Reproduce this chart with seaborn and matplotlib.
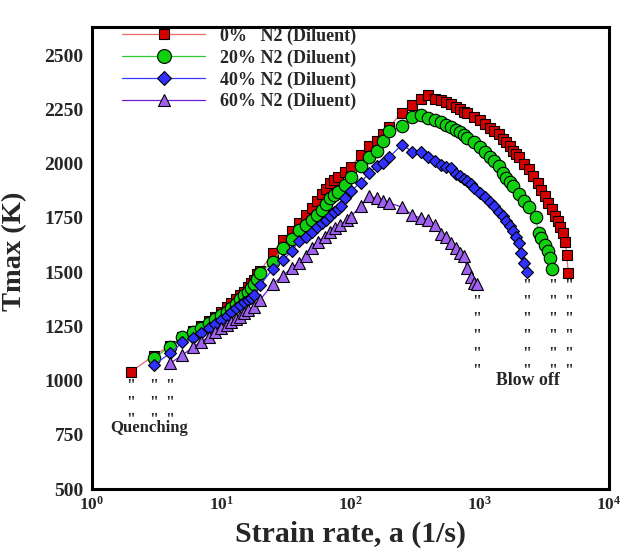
import numpy as np
import pandas as pd
import matplotlib
matplotlib.use("Agg")
import matplotlib.pyplot as plt
import seaborn as sns
from matplotlib.lines import Line2D
from matplotlib.ticker import FixedLocator, MultipleLocator, NullFormatter

# ---------------- data ----------------
x_0 = [2, 3, 4, 5, 6, 7, 8, 9, 10, 11, 12, 13, 14, 15, 16, 17, 18, 19, 20,
       25, 30, 35, 40, 45, 50, 55, 60, 65, 70, 75, 80, 90, 100, 120, 140, 160,
       180, 200, 250, 300, 350, 400, 450, 500, 550, 600, 650, 700, 750, 800,
       900, 1000, 1100, 1200, 1300, 1400, 1500, 1600, 1700, 1800, 1900, 2000,
       2200, 2400, 2600, 2800, 3000, 3200, 3400, 3600, 3800, 4000, 4200, 4400,
       4600, 4700, 4850]
t_0 = [1040, 1115, 1160, 1200, 1228, 1252, 1274, 1294, 1315, 1338, 1358, 1378,
       1395, 1410, 1432, 1450, 1465, 1490, 1505,
       1590, 1650, 1690, 1725, 1765, 1795, 1826, 1860, 1885, 1910, 1925, 1940,
       1960, 1985, 2040, 2080, 2105, 2135, 2170, 2235, 2270, 2300, 2315, 2300,
       2292, 2286, 2275, 2262, 2250, 2240, 2232, 2215, 2200, 2185, 2165, 2150,
       2135, 2115, 2098, 2080, 2060, 2045, 2030, 2000, 1975, 1945, 1910, 1880,
       1850, 1820, 1790, 1760, 1735, 1710, 1680, 1640, 1580, 1495]

x_20 = [3, 4, 5, 6, 7, 8, 9, 10, 11, 12, 13, 14, 15, 16, 17, 18, 19, 20,
        25, 30, 35, 40, 45, 50, 55, 60, 65, 70, 75, 80, 90, 100, 120, 140, 160,
        180, 200, 250, 300, 350, 400, 450, 500, 550, 600, 650, 700, 750, 800,
        900, 1000, 1100, 1200, 1300, 1400, 1500, 1600, 1700, 1800, 2000, 2200,
        2400, 2700, 2850, 3000, 3200, 3400, 3500, 3650]
t_20 = [1102, 1156, 1200, 1222, 1244, 1264, 1284, 1302, 1318, 1333, 1353, 1375,
        1395, 1410, 1425, 1446, 1470, 1495,
        1548, 1612, 1652, 1695, 1715, 1741, 1764, 1787, 1815, 1840, 1855, 1868,
        1900, 1940, 1987, 2030, 2057, 2105, 2149, 2172, 2215, 2226, 2211, 2203,
        2190, 2180, 2168, 2155, 2147, 2134, 2120, 2100, 2075, 2052, 2030, 2010,
        1990, 1955, 1935, 1915, 1895, 1860, 1830, 1800, 1756, 1680, 1657, 1626,
        1595, 1564, 1515]

x_40 = [3, 4, 5, 6, 7, 8, 9, 10, 11, 12, 13, 14, 15, 16, 17, 18, 20,
        25, 30, 35, 40, 45, 50, 55, 60, 65, 70, 75, 80, 85, 90, 100, 120, 140,
        160, 180, 200, 250, 300, 350, 400, 450, 500, 550, 600, 650, 700, 750,
        800, 850, 900, 1000, 1100, 1200, 1300, 1400, 1500, 1600, 1700, 1800,
        1900, 2000, 2100, 2200, 2300]
t_40 = [1071, 1125, 1176, 1195, 1218, 1241, 1262, 1279, 1299, 1318, 1333, 1349,
        1360, 1370, 1380, 1395, 1441,
        1513, 1556, 1595, 1644, 1664, 1687, 1710, 1725, 1738, 1760, 1775, 1790,
        1805, 1840, 1872, 1913, 1957, 1990, 2005, 2030, 2088, 2055, 2055, 2031,
        2010, 1995, 1984, 1978, 1950, 1941, 1928, 1918, 1908, 1890, 1865, 1845,
        1825, 1805, 1779, 1758, 1735, 1712, 1688, 1664, 1633, 1588, 1544, 1502]

x_60 = [4, 5, 6, 7, 8, 9, 10, 11, 12, 13, 14, 15, 16, 18, 20,
        25, 30, 35, 40, 45, 50, 56, 63, 70, 76, 83, 94, 100, 120, 140, 160, 180,
        200, 250, 300, 350, 400, 450, 500, 550, 600, 650, 700, 750, 800, 850,
        900, 950]
t_60 = [1079, 1117, 1153, 1179, 1202, 1225, 1241, 1256, 1271, 1282, 1294, 1310,
        1325, 1341, 1372,
        1446, 1482, 1521, 1541, 1572, 1610, 1641, 1664, 1687, 1703, 1718, 1741,
        1756, 1803, 1849, 1841, 1830, 1818, 1800, 1764, 1749, 1741, 1718, 1675,
        1664, 1633, 1610, 1590, 1572, 1518, 1479, 1449, 1444]

series_labels = ["0%   N2 (Diluent)", "20% N2 (Diluent)",
                 "40% N2 (Diluent)", "60% N2 (Diluent)"]

# rows of the '' marks below the end points (temperature values)
quench_rows = [1000, 922, 845]
blow_rows = [1464, 1387, 1311, 1230, 1150, 1071]

y_ticks = [500, 750, 1000, 1250, 1500, 1750, 2000, 2250, 2500]
x_ticks = [1, 10, 100, 1000, 10000]
x_tick_labels = [r"$\mathbf{10^{0}}$", r"$\mathbf{10^{1}}$", r"$\mathbf{10^{2}}$",
                 r"$\mathbf{10^{3}}$", r"$\mathbf{10^{4}}$"]

# ---------------- style ----------------
sns.set_style("white")
serif = "Liberation Serif"
plt.rcParams["font.family"] = [serif, "DejaVu Serif"]
plt.rcParams["font.weight"] = "bold"
plt.rcParams["mathtext.fontset"] = "custom"
plt.rcParams["mathtext.rm"] = serif + ":bold"
plt.rcParams["mathtext.bf"] = serif + ":bold"
plt.rcParams["mathtext.it"] = serif + ":bold"

fig = plt.figure(figsize=(6.22, 5.49), dpi=100)
ax = fig.add_axes([92 / 622, 60 / 549, (609 - 92) / 622, (549 - 60 - 27) / 549])

styles = [
    dict(marker="s", face="#d40000", line="#e86a6a", ms=7.0, lms=7.5),
    dict(marker="o", face="#10d010", line="#30c830", ms=9.0, lms=10.0),
    dict(marker="D", face="#3030ff", line="#3838ff", ms=6.6, lms=7.5),
    dict(marker="^", face="#a060f0", line="#6a20d8", ms=8.0, lms=8.5),
]
data = [(x_0, t_0), (x_20, t_20), (x_40, t_40), (x_60, t_60)]

handles = []
for (xs, ts), st, lab in zip(data, styles, series_labels):
    df = pd.DataFrame({"a": xs, "T": ts})
    sns.lineplot(data=df, x="a", y="T", ax=ax, color=st["line"], linewidth=0.9,
                 marker=st["marker"], markersize=st["ms"],
                 markerfacecolor=st["face"], markeredgecolor="black",
                 markeredgewidth=0.8, sort=False, legend=False)
    handles.append(Line2D([0], [0], color=st["line"], linewidth=0.9,
                          marker=st["marker"], markersize=st["lms"],
                          markerfacecolor=st["face"], markeredgecolor="black",
                          markeredgewidth=0.8, label=lab))

ax.set_xscale("log")
ax.set_xlim(1, 10000)
ax.set_ylim(500, 2630)

ax.set_xticks(x_ticks)
ax.set_xticklabels(x_tick_labels)
minor = [m * 10 ** d for d in range(0, 4) for m in range(2, 10)]
ax.xaxis.set_minor_locator(FixedLocator(minor))
ax.xaxis.set_minor_formatter(NullFormatter())
ax.set_yticks(y_ticks)
ax.set_yticklabels([str(v) for v in y_ticks])
ax.yaxis.set_minor_locator(MultipleLocator(50))

ax.tick_params(axis="both", which="major", direction="in", length=7, width=1.6,
               top=False, right=False)
ax.tick_params(axis="x", which="major", labelsize=12.5, pad=5)
ax.tick_params(axis="y", which="major", labelsize=14, pad=6)
ax.tick_params(axis="both", which="minor", direction="in", length=4, width=1.0,
               top=False, right=False)
for lbl in ax.get_yticklabels():
    lbl.set_fontweight("bold")
for sp in ax.spines.values():
    sp.set_linewidth(2.2)
    sp.set_color("black")

ax.set_xlabel("Strain rate, a (1/s)", fontsize=21.5, fontweight="bold", labelpad=5)
ax.set_ylabel("Tmax (K)", fontsize=20.5, fontweight="bold", labelpad=8)
ax.yaxis.set_label_coords(-0.125, 0.515)

leg = ax.legend(handles=handles, loc="upper left", bbox_to_anchor=(0.027, 1.034),
                frameon=False, handlelength=4.6, handletextpad=0.83,
                labelspacing=0.25, prop={"family": serif, "weight": "bold",
                                         "size": 13})

# '' marks (text glyphs) below the quenching and blow-off points
quench_marks = {}
blow_marks = {}
for xs, ts in data:
    quench_marks[xs[0]] = max(quench_marks.get(xs[0], 0), ts[0])
    blow_marks[xs[-1]] = max(blow_marks.get(xs[-1], 0), ts[-1])
for rows, marks in ((quench_rows, quench_marks), (blow_rows, blow_marks)):
    for xv, tv in marks.items():
        for yv in rows:
            if tv - yv > 20:
                ax.text(xv, yv + 11, '"', ha="center", va="top", fontsize=11.5,
                        fontweight="bold", family=serif)

ax.text(1.38, 781, "Quenching", fontsize=12, fontweight="bold", family=serif,
        ha="left", va="center")
ax.text(1340, 998, "Blow off", fontsize=12.8, fontweight="bold", family=serif,
        ha="left", va="center")

fig.savefig("out.png", dpi=100)
